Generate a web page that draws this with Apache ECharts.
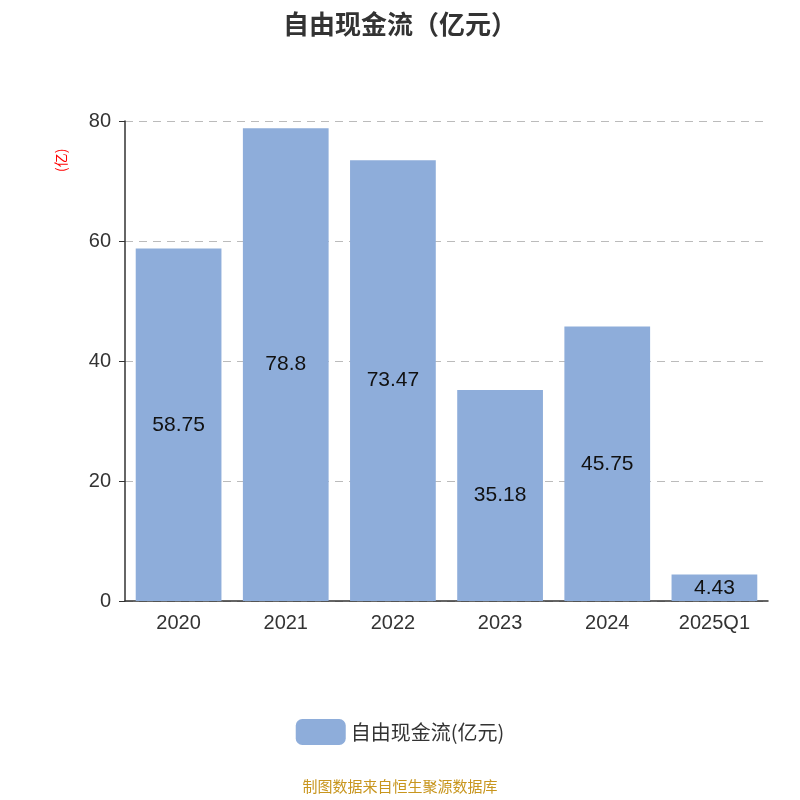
<!DOCTYPE html>
<html><head><meta charset="utf-8">
<script src="https://cdn.jsdelivr.net/npm/echarts@6/dist/echarts.min.js"></script>
<style>html,body{margin:0;padding:0}#c{width:800px;height:800px}</style>
</head><body><div id="c"></div>
<script>
const categories = ['2020','2021','2022','2023','2024','2025Q1'];
const values = [58.75, 78.8, 73.47, 35.18, 45.75, 4.43];
const seriesName = '自由现金流(亿元)';
const chart = echarts.init(document.getElementById('c'));
chart.setOption({
  title: {text: '自由现金流（亿元）', left: 'center', top: 6,
    textStyle: {fontSize: 26, fontWeight: 'bold', color: '#333', fontFamily: 'Noto Sans CJK SC'}},
  grid: {left: 125, right: 32, top: 121, bottom: 199},
  legend: {bottom: 50, itemWidth: 50, itemHeight: 26, icon: 'roundRect',
    textStyle: {fontSize: 20, color: '#333', fontFamily: 'Noto Sans CJK SC'}},
  graphic: [
    {type: 'text', left: 'center', top: 779, style: {text: '制图数据来自恒生聚源数据库', fill: '#c8961e', fontSize: 15, fontFamily: 'Noto Sans CJK SC'}},
    {type: 'text', x: 54, y: 172, rotation: Math.PI/2, style: {text: '(亿)', fill: '#ff0000', fontSize: 14, fontFamily: 'Noto Sans CJK SC'}}
  ],
  xAxis: {type: 'category', data: categories,
    axisLine: {lineStyle: {color: '#333', width: 1.5}},
    axisTick: {lineStyle: {color: '#333'}, length: 6},
    axisLabel: {fontSize: 20, color: '#333', margin: 12}},
  yAxis: {type: 'value', min: 0, max: 80, interval: 20,
    axisLine: {show: true, lineStyle: {color: '#333', width: 1.5}},
    axisTick: {show: true, lineStyle: {color: '#333'}, length: 6},
    axisLabel: {fontSize: 20, color: '#333', margin: 14},
    splitLine: {lineStyle: {type: [8, 6], color: '#bbb', width: 1.2}}},
  series: [{name: seriesName, type: 'bar', data: values, barWidth: '80%',
    itemStyle: {color: '#8eadda'},
    label: {show: true, position: 'inside', fontSize: 21, color: '#111'}}]
});
</script></body></html>
